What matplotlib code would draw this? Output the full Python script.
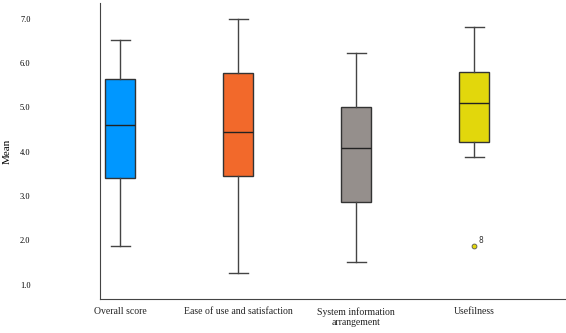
import matplotlib
matplotlib.use('Agg')
import matplotlib.pyplot as plt

categories = ['Overall score', 'Ease of use and satisfaction',
              'System information\narrangement', 'Usefilness']
whislo = [1.88, 1.27, 1.52, 3.88]
q1 = [3.41, 3.45, 2.87, 4.22]
med = [4.60, 4.45, 4.08, 5.10]
q3 = [5.64, 5.77, 5.00, 5.80]
whishi = [6.52, 7.00, 6.22, 6.81]
fliers = [[], [], [], [1.88]]
flier_labels = [[], [], [], ['8']]
colors = ['#0097FF', '#F2692B', '#958F8C', '#E2D70C']

plt.rcParams['font.family'] = ['Liberation Serif']

stats = []
for i in range(len(categories)):
    stats.append({'whislo': whislo[i], 'q1': q1[i], 'med': med[i], 'q3': q3[i],
                  'whishi': whishi[i], 'fliers': fliers[i], 'label': categories[i]})

fig = plt.figure(figsize=(5.66, 3.33), dpi=100)
ax = fig.add_axes([0.1767, 0.102, 0.8215, 0.889])
pos = [1, 2, 3, 4]
bp = ax.bxp(stats, positions=pos, widths=0.254, patch_artist=True, showfliers=True,
            boxprops=dict(edgecolor='#333333', linewidth=1.0),
            medianprops=dict(color='#222222', linewidth=1.0),
            whiskerprops=dict(color='#444444', linewidth=1.0),
            capprops=dict(color='#444444', linewidth=1.0),
            capwidths=0.16,
            flierprops=dict(marker='o', markersize=3.5, markerfacecolor=colors[3],
                            markeredgecolor='#555555', markeredgewidth=0.6))
for patch, c in zip(bp['boxes'], colors):
    patch.set_facecolor(c)

for i, labs in enumerate(flier_labels):
    for v, t in zip(fliers[i], labs):
        ax.annotate(t, (pos[i], v), xytext=(3, 2), textcoords='offset points',
                    fontsize=5.5, family='DejaVu Sans', color='#333333')

ax.set_xlim(0.83, 4.77)
ax.set_ylim(0.68, 7.35)
ax.set_yticks([1, 2, 3, 4, 5, 6, 7])
ax.set_yticklabels(['1.0', '2.0', '3.0', '4.0', '5.0', '6.0', '7.0'], fontsize=6)
ax.set_xticks(pos)
ax.set_xticklabels(categories, fontsize=7, multialignment='center', color='#222222')
ax.tick_params(axis='both', length=0)
ax.tick_params(axis='x', pad=6)
ax.tick_params(axis='y', pad=50)
ax.set_ylabel('Mean', fontsize=8)
ax.yaxis.set_label_coords(-0.19, 0.5)
ax.spines['top'].set_visible(False)
ax.spines['right'].set_visible(False)
ax.spines['left'].set_color('#444444')
ax.spines['bottom'].set_color('#444444')

plt.savefig('out.png', dpi=100)
plt.close()
